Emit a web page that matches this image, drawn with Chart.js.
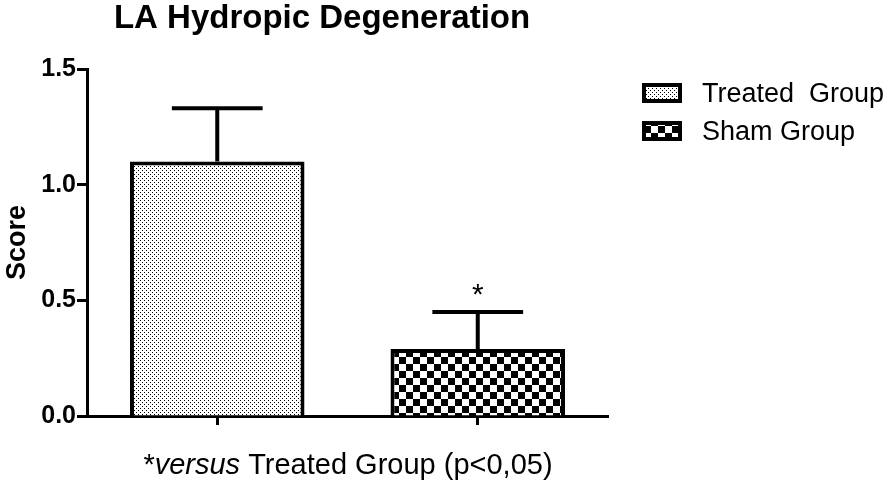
<!DOCTYPE html>
<html>
<head>
<meta charset="utf-8">
<script src="https://cdn.jsdelivr.net/npm/chart.js@4.4.0/dist/chart.umd.min.js"></script>
<style>
  html, body { margin: 0; padding: 0; background: #fff; }
  #wrap { position: relative; width: 894px; height: 481px; }
</style>
</head>
<body>
<div id="wrap"><canvas id="chart" width="894" height="481"></canvas></div>
<script>
// Values
const groups = ['Treated  Group', 'Sham Group'];
const scores = [1.1, 0.29];
const sem = [0.23, 0.16]; // upper error bar length
const marks = ['', '*']; // significance mark over the error bar
const yTicks = [0, 0.5, 1.0, 1.5];

const chartTitle = 'LA Hydropic Degeneration';
const yTitle = 'Score';
const footnote = ['*', 'versus', ' Treated Group (p<0,05)']; // plain, italic, plain

const FONT = "'Liberation Sans', Arial, sans-serif";

// Fill patterns for the two groups
function dotPattern() {
  let c = document.createElement('canvas');
  c.width = 4; c.height = 4;
  let g = c.getContext('2d');
  g.fillStyle = '#fff'; g.fillRect(0, 0, 4, 4);
  g.fillStyle = '#000';
  g.fillRect(0, 0, 1, 1);
  g.fillRect(2, 2, 1, 1);
  return g.createPattern(c, 'repeat');
}

function checkerPattern() {
  let c = document.createElement('canvas');
  c.width = 14; c.height = 14;
  let g = c.getContext('2d');
  g.fillStyle = '#fff'; g.fillRect(0, 0, 14, 14);
  g.fillStyle = '#000';
  g.fillRect(0, 0, 7, 7);
  g.fillRect(7, 7, 7, 7);
  return g.createPattern(c, 'repeat');
}

const fills = [dotPattern(), checkerPattern()];

// Error bars, star, title, legend and footnote
const extras = {
  id: 'extras',
  afterDatasetsDraw(chart) {
    let ctx = chart.ctx;
    let y = chart.scales.y;
    let meta = chart.getDatasetMeta(0);
    ctx.save();
    ctx.strokeStyle = '#000';
    ctx.lineWidth = 4;
    meta.data.forEach(function(bar, i) {
      let top = y.getPixelForValue(scores[i] + sem[i]);
      let half = bar.width * 0.26;
      ctx.beginPath();
      ctx.moveTo(bar.x, bar.y);
      ctx.lineTo(bar.x, top);
      ctx.moveTo(bar.x - half, top);
      ctx.lineTo(bar.x + half, top);
      ctx.stroke();
      if (marks[i]) {
        ctx.fillStyle = '#000';
        ctx.font = '30px ' + FONT;
        ctx.textAlign = 'center';
        ctx.textBaseline = 'alphabetic';
        ctx.fillText(marks[i], bar.x, top - 8);
      }
    });
    ctx.restore();
  },
  afterDraw(chart) {
    let ctx = chart.ctx;
    ctx.save();
    ctx.fillStyle = '#000';
    ctx.textBaseline = 'alphabetic';

    // title
    ctx.font = 'bold 33px ' + FONT;
    ctx.textAlign = 'center';
    ctx.fillText(chartTitle, 322, 28);

    // legend
    ctx.textAlign = 'left';
    ctx.font = '27px ' + FONT;
    let rows = [83, 121];
    groups.forEach(function(name, i) {
      ctx.fillStyle = fills[i];
      ctx.fillRect(642, rows[i], 40, 20);
      ctx.strokeStyle = '#000';
      ctx.lineWidth = 4;
      ctx.strokeRect(644, rows[i] + 2, 36, 16);
      ctx.fillStyle = '#000';
      ctx.fillText(name, 702, rows[i] + 19);
    });

    // footnote with italic middle word
    let fonts = ['29px ' + FONT, 'italic 29px ' + FONT, '29px ' + FONT];
    let widths = footnote.map(function(t, i) { ctx.font = fonts[i]; return ctx.measureText(t).width; });
    let total = widths.reduce(function(a, b) { return a + b; }, 0);
    let x = 348 - total / 2;
    footnote.forEach(function(t, i) {
      ctx.font = fonts[i];
      ctx.fillText(t, x, 474);
      x += widths[i];
    });
    ctx.restore();
  }
};

new Chart(document.getElementById('chart'), {
  type: 'bar',
  data: {
    labels: groups,
    datasets: [{
      data: scores,
      backgroundColor: fills,
      borderColor: '#000',
      borderWidth: 4,
      categoryPercentage: 1,
      barPercentage: 0.67
    }]
  },
  options: {
    responsive: false,
    animation: false,
    layout: { padding: { top: 69, right: 286, left: 0, bottom: 0 } },
    plugins: {
      legend: { display: false },
      tooltip: { enabled: false }
    },
    scales: {
      x: {
        grid: { display: true, drawOnChartArea: false, offset: false, drawTicks: true, tickLength: 9, tickWidth: 3, tickColor: '#000' },
        border: { display: true, color: '#000', width: 3 },
        ticks: { display: false },
        afterFit: function(scale) { scale.height = 65; }
      },
      y: {
        min: 0,
        max: 1.5,
        afterBuildTicks: function(scale) { scale.ticks = yTicks.map(function(v) { return { value: v }; }); },
        grid: { display: true, drawOnChartArea: false, drawTicks: true, tickLength: 10, tickWidth: 3, tickColor: '#000' },
        border: { display: true, color: '#000', width: 3 },
        ticks: {
          color: '#000',
          padding: 1,
          font: { family: FONT, size: 25, weight: 'bold' },
          callback: function(v) { return Number(v).toFixed(1); }
        },
        title: {
          display: true,
          text: yTitle,
          color: '#000',
          font: { family: FONT, size: 27, weight: 'bold' },
          padding: { top: 1, bottom: 0 }
        },
        afterFit: function(scale) { scale.width = 87; }
      }
    }
  },
  plugins: [extras]
});
</script>
</body>
</html>
